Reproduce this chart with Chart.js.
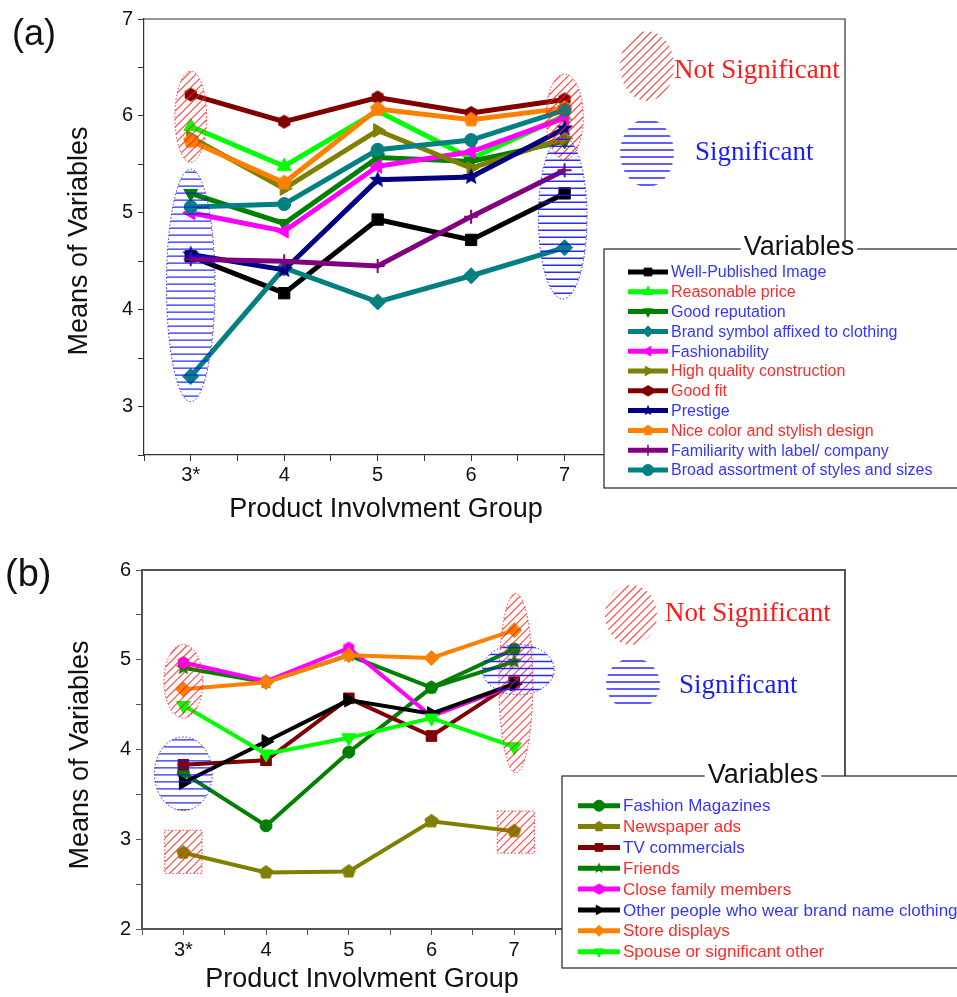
<!DOCTYPE html>
<html>
<head>
<meta charset="utf-8">
<script src="https://cdn.jsdelivr.net/npm/chart.js@4.4.1/dist/chart.umd.min.js"></script>
<style>
html, body { margin: 0; padding: 0; background: #fff; }
#wrapA { position: absolute; left: 0; top: 0; width: 957px; height: 530px; }
#wrapB { position: absolute; left: 0; top: 530px; width: 957px; height: 467px; }
canvas { display: block; }
</style>
</head>
<body>
<div id="wrapA"><canvas id="chartA" width="957" height="530"></canvas></div>
<div id="wrapB"><canvas id="chartB" width="957" height="467"></canvas></div>
<script>
// product involvement groups (x axis)
const groups = [3, 4, 5, 6, 7];
const groupLabels = ['3*', '4', '5', '6', '7'];

// ---- panel (a): store attributes ----
const labelsA = [
  'Well-Published Image', 'Reasonable price', 'Good reputation',
  'Brand symbol affixed to clothing', 'Fashionability', 'High quality construction',
  'Good fit', 'Prestige', 'Nice color and stylish design',
  'Familiarity with label/ company', 'Broad assortment of styles and sizes'
];
const wellPublished   = [4.55, 4.17, 4.93, 4.72, 5.20];
const reasonablePrice = [5.89, 5.48, 6.05, 5.56, 6.00];
const goodReputation  = [5.20, 4.89, 5.57, 5.53, 5.74];
const brandSymbol     = [3.31, 4.43, 4.08, 4.35, 4.64];
const fashionability  = [5.00, 4.81, 5.48, 5.63, 5.98];
const highQuality     = [5.78, 5.25, 5.85, 5.46, 5.77];
const goodFit         = [6.22, 5.94, 6.19, 6.03, 6.17];
const prestige        = [4.57, 4.41, 5.34, 5.37, 5.87];
const niceColor       = [5.74, 5.31, 6.07, 5.96, 6.08];
const familiarity     = [4.52, 4.50, 4.45, 4.96, 5.44];
const broadAssortment = [5.06, 5.09, 5.65, 5.75, 6.06];
const seriesA = [wellPublished, reasonablePrice, goodReputation, brandSymbol, fashionability,
  highQuality, goodFit, prestige, niceColor, familiarity, broadAssortment];
const textRedA = [false, true, false, false, false, true, true, false, true, false, false];

// ---- panel (b): information sources ----
const labelsB = [
  'Fashion Magazines', 'Newspaper ads', 'TV commercials', 'Friends',
  'Close family members', 'Other people who wear brand name clothing',
  'Store displays', 'Spouse or significant other'
];
const fashionMagazines = [3.74, 3.15, 3.97, 4.69, 5.12];
const newspaperAds     = [2.85, 2.63, 2.64, 3.20, 3.09];
const tvCommercials    = [3.83, 3.88, 4.57, 4.15, 4.75];
const friends          = [4.91, 4.75, 5.05, 4.69, 4.98];
const closeFamily      = [4.97, 4.76, 5.13, 4.37, 4.72];
const otherPeople      = [3.63, 4.09, 4.55, 4.40, 4.73];
const storeDisplays    = [4.67, 4.75, 5.05, 5.02, 5.33];
const spouse           = [4.49, 3.95, 4.13, 4.35, 4.03];
const seriesB = [fashionMagazines, newspaperAds, tvCommercials, friends, closeFamily,
  otherPeople, storeDisplays, spouse];
const textRedB = [false, true, false, true, true, false, true, true];

// line colours / markers
const stylesA = [
  { color: '#000000', marker: 'rect', r: 8 },
  { color: '#00ff00', marker: 'triangle', r: 8 },
  { color: '#008000', marker: 'triangle', rot: 180, r: 8 },
  { color: '#008080', marker: 'rectRot', r: 8 },
  { color: '#ff00ff', marker: 'triangle', rot: 270, r: 8 },
  { color: '#808000', marker: 'triangle', rot: 90, r: 8 },
  { color: '#800000', marker: 'hex', r: 7 },
  { color: '#000080', marker: 'star', r: 9 },
  { color: '#ff8000', marker: 'pent', r: 8 },
  { color: '#800080', marker: 'cross', r: 7 },
  { color: '#008080', marker: 'circle', r: 6.5 }
];
const stylesB = [
  { color: '#008000', marker: 'circle', r: 6 },
  { color: '#808000', marker: 'pent', r: 7.5 },
  { color: '#800000', marker: 'rect', r: 7.5 },
  { color: '#008000', marker: 'star', r: 8 },
  { color: '#ff00ff', marker: 'hex', r: 6.5 },
  { color: '#000000', marker: 'triangle', rot: 90, r: 8 },
  { color: '#ff8000', marker: 'rectRot', r: 7.5 },
  { color: '#00ff00', marker: 'triangle', rot: 180, r: 8 }
];

const SANS = 'Arial, "Liberation Sans", sans-serif';
const SERIF = '"Times New Roman", "Liberation Serif", serif';
const BLUE_TXT = '#3535ff';
const RED_TXT = '#ff2a2a';

function shapeCanvas(kind, color, r) {
  const s = Math.ceil(r * 2 + 2);
  const c = document.createElement('canvas');
  c.width = s; c.height = s;
  const g = c.getContext('2d');
  const n = kind === 'star' ? 10 : kind === 'pent' ? 5 : 6;
  g.fillStyle = color;
  g.beginPath();
  for (let i = 0; i < n; i++) {
    const a = -Math.PI / 2 + i * 2 * Math.PI / n;
    const rr = (kind === 'star' && i % 2) ? r * 0.45 : r;
    g.lineTo(s / 2 + rr * Math.cos(a), s / 2 + rr * Math.sin(a));
  }
  g.closePath();
  g.fill();
  return c;
}

function buildDatasets(labels, series, styles, lw) {
  return series.map((vals, i) => {
    const st = styles[i];
    const custom = ['hex', 'pent', 'star'].includes(st.marker);
    const ps = custom ? shapeCanvas(st.marker, st.color, st.r) : st.marker;
    st.ps = ps;
    return {
      label: labels[i],
      data: groups.map((g, k) => ({ x: g, y: vals[k] })),
      borderColor: st.color,
      backgroundColor: st.color,
      pointBackgroundColor: st.color,
      pointBorderColor: st.color,
      borderWidth: lw,
      pointStyle: ps,
      pointRadius: st.r,
      pointRotation: st.rot || 0,
      pointBorderWidth: st.marker === 'cross' ? 2 : 1,
      tension: 0,
      order: series.length - i
    };
  });
}

function hatch(ctx, path, box, kind, outline) {
  ctx.save();
  path();
  ctx.clip();
  ctx.beginPath();
  if (kind === 'red') {
    ctx.strokeStyle = 'rgba(255,30,30,0.85)';
    ctx.lineWidth = 1.1;
    for (let d = -box.h; d < box.w + box.h; d += 8) {
      ctx.moveTo(box.x + d, box.y + box.h);
      ctx.lineTo(box.x + d + box.h, box.y);
    }
  } else {
    ctx.strokeStyle = 'rgba(20,20,255,0.9)';
    ctx.lineWidth = 1.3;
    for (let yy = box.y + 3; yy < box.y + box.h; yy += 7) {
      ctx.moveTo(box.x, yy);
      ctx.lineTo(box.x + box.w, yy);
    }
  }
  ctx.stroke();
  ctx.restore();
  if (outline) {
    ctx.save();
    path();
    ctx.setLineDash([1.5, 2]);
    ctx.lineWidth = 1;
    ctx.strokeStyle = kind === 'red' ? 'rgba(255,30,30,0.9)' : 'rgba(20,20,255,0.9)';
    ctx.stroke();
    ctx.restore();
  }
}

function ellipse(ctx, cx, cy, rx, ry, kind, outline) {
  hatch(ctx, () => { ctx.beginPath(); ctx.ellipse(cx, cy, rx, ry, 0, 0, Math.PI * 2); },
    { x: cx - rx, y: cy - ry, w: rx * 2, h: ry * 2 }, kind, outline);
}

function drawMarker(ctx, st, x, y, r) {
  ctx.save();
  ctx.fillStyle = st.color;
  ctx.strokeStyle = st.color;
  if (st.ps instanceof HTMLCanvasElement) {
    ctx.drawImage(st.ps, x - r - 1, y - r - 1, 2 * r + 2, 2 * r + 2);
  } else {
    ctx.lineWidth = st.marker === 'cross' ? 1.5 : 1;
    Chart.helpers.drawPoint(ctx, { pointStyle: st.ps, rotation: st.rot || 0, radius: r, borderWidth: ctx.lineWidth }, x, y);
  }
  ctx.restore();
}

function makePanelPlugin(p) {
  return {
    id: 'panel' + p.tag,
    afterDatasetsDraw(chart) {
      const ctx = chart.ctx;
      const xs = chart.scales.x, ys = chart.scales.y;
      const a = chart.chartArea;
      // frame top/right
      ctx.save();
      ctx.strokeStyle = p.frameColor;
      ctx.lineWidth = p.frameWidth;
      ctx.beginPath();
      ctx.moveTo(a.left, a.top);
      ctx.lineTo(a.right, a.top);
      ctx.lineTo(a.right, a.bottom);
      ctx.stroke();
      ctx.restore();
      // significance marks (data units)
      p.marks.forEach(m => {
        const cx = xs.getPixelForValue(m.x), cy = ys.getPixelForValue(m.y);
        const rx = Math.abs(xs.getPixelForValue(m.x + m.rx) - cx);
        const ry = Math.abs(ys.getPixelForValue(m.y + m.ry) - cy);
        if (m.box) {
          hatch(ctx, () => { ctx.beginPath(); ctx.rect(cx - rx, cy - ry, rx * 2, ry * 2); },
            { x: cx - rx, y: cy - ry, w: rx * 2, h: ry * 2 }, m.kind, true);
        } else {
          ellipse(ctx, cx, cy, rx, ry, m.kind, true);
        }
      });
    },
    afterDraw(chart) {
      const ctx = chart.ctx;
      const L = p.legend;
      ctx.save();
      // axis titles
      ctx.fillStyle = '#111';
      ctx.font = '27px ' + SANS;
      ctx.textAlign = 'center';
      ctx.textBaseline = 'middle';
      ctx.fillText('Product Involvment Group', p.xTitle.x, p.xTitle.y);
      ctx.save();
      ctx.translate(p.yTitle.x, p.yTitle.y);
      ctx.rotate(-Math.PI / 2);
      ctx.fillText('Means of Variables', 0, 0);
      ctx.restore();
      // legend box
      ctx.fillStyle = '#fff';
      ctx.fillRect(L.x, L.y, L.w, L.h);
      ctx.strokeStyle = '#222';
      ctx.lineWidth = 1.2;
      ctx.strokeRect(L.x, L.y, L.w, L.h);
      const tw = ctx.measureText('Variables').width;
      ctx.fillStyle = '#fff';
      ctx.fillRect(L.titleX - tw / 2 - 3, L.y - 4, tw + 6, 8);
      ctx.fillStyle = '#111';
      ctx.textBaseline = 'alphabetic';
      ctx.fillText('Variables', L.titleX, L.y + L.titleDy);
      // entries
      ctx.textAlign = 'left';
      ctx.textBaseline = 'middle';
      ctx.font = L.font + 'px ' + SANS;
      p.labels.forEach((lab, i) => {
        const st = p.styles[i];
        const y = L.row0 + i * L.rowStep;
        ctx.strokeStyle = st.color;
        ctx.lineWidth = 5;
        ctx.beginPath();
        ctx.moveTo(L.lineX0, y);
        ctx.lineTo(L.lineX1, y);
        ctx.stroke();
        drawMarker(ctx, st, (L.lineX0 + L.lineX1) / 2, y, 5.5);
        ctx.fillStyle = p.textRed[i] ? RED_TXT : BLUE_TXT;
        ctx.fillText(lab, L.textX, y + 1);
      });
      // significance key
      const K = p.key;
      ellipse(ctx, K.red.cx, K.red.cy, K.red.rx, K.red.ry, 'red', false);
      ellipse(ctx, K.blue.cx, K.blue.cy, K.blue.rx, K.blue.ry, 'blue', false);
      ctx.textBaseline = 'alphabetic';
      ctx.font = '27px ' + SERIF;
      ctx.fillStyle = '#ff1a1a';
      ctx.fillText('Not Significant', K.redText.x, K.redText.y);
      ctx.fillStyle = '#1a1aff';
      ctx.fillText('Significant', K.blueText.x, K.blueText.y);
      // panel tag
      ctx.fillStyle = '#111';
      ctx.font = p.tagFont + 'px ' + SANS;
      ctx.fillText('(' + p.tag + ')', p.tagX, p.tagY);
      ctx.restore();
    }
  };
}

function intLabel(v) {
  return Math.abs(v - Math.round(v)) < 1e-6 ? String(Math.round(v)) : '';
}
function groupLabel(v) {
  const k = groups.findIndex(g => Math.abs(g - v) < 1e-6);
  return k >= 0 ? groupLabels[k] : '';
}

function makeChart(id, o) {
  const axisStyle = {
    grid: { drawOnChartArea: false, drawTicks: true, tickLength: 6, color: o.frameColor, lineWidth: 1 },
    border: { display: true, color: o.frameColor, width: o.frameWidth }
  };
  return new Chart(document.getElementById(id), {
    type: 'line',
    data: { datasets: o.datasets },
    options: {
      responsive: false,
      animation: false,
      layout: { padding: o.padding },
      plugins: { legend: { display: false }, tooltip: { enabled: false } },
      scales: {
        x: {
          type: 'linear', min: 2.5, max: o.xMax,
          ...axisStyle,
          ticks: { stepSize: 0.5, autoSkip: false, maxRotation: 0, padding: o.xTickPad, color: '#111',
            font: { family: SANS, size: 20 }, callback: groupLabel },
          title: { display: false },
          afterFit: s => { s.height = o.xHeight; }
        },
        y: {
          min: o.yMin, max: o.yMax,
          ...axisStyle,
          ticks: { stepSize: 0.5, autoSkip: false, padding: 5, color: '#111',
            font: { family: SANS, size: 20 }, callback: intLabel },
          title: { display: false },
          afterFit: s => { s.width = o.yWidth; }
        }
      }
    },
    plugins: [o.plugin]
  });
}

// panel (a)
makeChart('chartA', {
  datasets: buildDatasets(labelsA, seriesA, stylesA, 5),
  padding: { left: 60, top: 19, right: 112, bottom: 0 },
  xMax: 10, yMin: 2.5, yMax: 7, yWidth: 84, xHeight: 75, xTickPad: 2,
  frameColor: '#333', frameWidth: 1.2,
  plugin: makePanelPlugin({
    tag: 'a', tagFont: 36, tagX: 12, tagY: 45,
    frameColor: '#333', frameWidth: 1.2,
    xTitle: { x: 386, y: 510 }, yTitle: { x: 80, y: 241 },
    labels: labelsA, styles: stylesA, textRed: textRedA,
    marks: [
      { x: 3, y: 5.99, rx: 0.17, ry: 0.47, kind: 'red' },
      { x: 7, y: 5.99, rx: 0.2, ry: 0.44, kind: 'red' },
      { x: 3, y: 4.25, rx: 0.26, ry: 1.2, kind: 'blue' },
      { x: 6.98, y: 4.95, rx: 0.26, ry: 0.84, kind: 'blue' }
    ],
    legend: { x: 604, y: 249, w: 400, h: 239, titleX: 799, titleDy: 6, font: 16,
      row0: 272, rowStep: 19.8, lineX0: 628, lineX1: 668, textX: 671 },
    key: {
      red: { cx: 647, cy: 66, rx: 27, ry: 35 },
      blue: { cx: 647, cy: 153, rx: 27, ry: 34 },
      redText: { x: 674, y: 78 },
      blueText: { x: 695, y: 160 }
    }
  })
});

// panel (b)
makeChart('chartB', {
  datasets: buildDatasets(labelsB, seriesB, stylesB, 4),
  padding: { left: 61, top: 40, right: 112, bottom: 0 },
  xMax: 11, yMin: 2, yMax: 6, yWidth: 81, xHeight: 68, xTickPad: 3,
  frameColor: '#555', frameWidth: 2,
  plugin: makePanelPlugin({
    tag: 'b', tagFont: 38, tagX: 5, tagY: 56,
    frameColor: '#555', frameWidth: 2,
    xTitle: { x: 362, y: 450 }, yTitle: { x: 81, y: 225 },
    labels: labelsB, styles: stylesB, textRed: textRedB,
    marks: [
      { x: 3, y: 4.76, rx: 0.235, ry: 0.41, kind: 'red' },
      { x: 7.02, y: 4.74, rx: 0.205, ry: 1.0, kind: 'red' },
      { x: 7.05, y: 4.89, rx: 0.435, ry: 0.28, kind: 'blue' },
      { x: 3, y: 3.73, rx: 0.35, ry: 0.41, kind: 'blue' },
      { x: 3, y: 2.86, rx: 0.225, ry: 0.24, kind: 'red', box: true },
      { x: 7.02, y: 3.08, rx: 0.225, ry: 0.235, kind: 'red', box: true }
    ],
    legend: { x: 562, y: 246, w: 420, h: 192, titleX: 763, titleDy: 7, font: 17,
      row0: 275.7, rowStep: 20.85, lineX0: 578, lineX1: 620, textX: 623 },
    key: {
      red: { cx: 631, cy: 85, rx: 26, ry: 30 },
      blue: { cx: 633, cy: 154, rx: 27, ry: 26 },
      redText: { x: 665, y: 91 },
      blueText: { x: 679, y: 163 }
    }
  })
});
</script>
</body>
</html>
